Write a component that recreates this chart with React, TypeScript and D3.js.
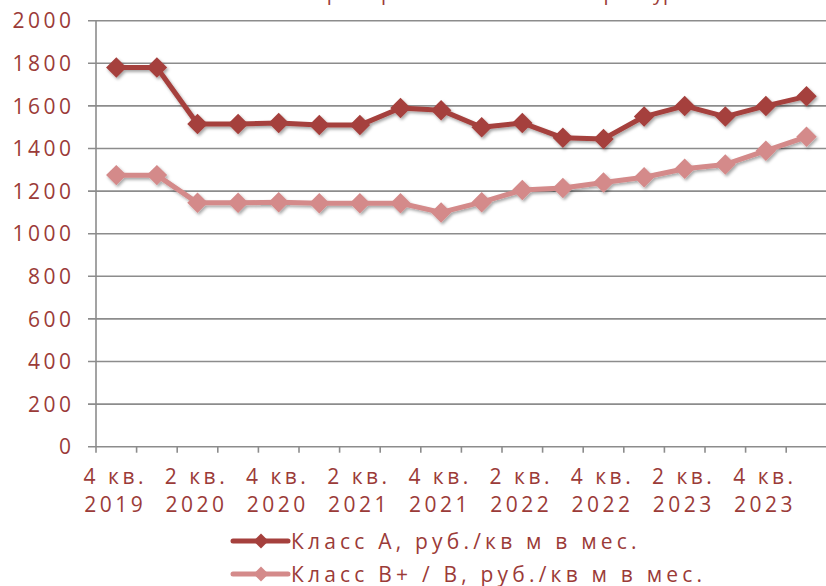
import React from "react";
import * as d3 from "d3";

const categories = [
  "4 кв. 2019", "1 кв. 2020", "2 кв. 2020", "3 кв. 2020", "4 кв. 2020",
  "1 кв. 2021", "2 кв. 2021", "3 кв. 2021", "4 кв. 2021", "1 кв. 2022",
  "2 кв. 2022", "3 кв. 2022", "4 кв. 2022", "1 кв. 2023", "2 кв. 2023",
  "3 кв. 2023", "4 кв. 2023", "1 кв. 2024",
];
const classA = [1780, 1780, 1515, 1515, 1520, 1510, 1510, 1590, 1580, 1500, 1520, 1450, 1445, 1550, 1600, 1550, 1600, 1645];
const classB = [1275, 1275, 1145, 1145, 1148, 1143, 1143, 1143, 1100, 1148, 1205, 1215, 1240, 1265, 1305, 1325, 1390, 1455];
const yTicks = [0, 200, 400, 600, 800, 1000, 1200, 1400, 1600, 1800, 2000];
const seriesNames = ["Класс А, руб./кв м в мес.", "Класс В+ / В, руб./кв м в мес."];
const title = "Характеристика ставок в Екатеринбурге";

const W = 826;
const H = 586;
const left = 96;
const band = 40.6;
const top = 20.7;
const bottom = 446.7;
const textColor = "#9B3B38";
const colA = "#A5403D";
const colB = "#D48A8A";
const gridColor = "#8C8C8C";
const font = "'Open Sans', sans-serif";

export default function App() {
  const x = d3
    .scaleBand<number>()
    .domain(categories.map((_, i) => i))
    .range([left, left + band * categories.length])
    .padding(0);
  const y = d3.scaleLinear().domain([0, 2000]).range([bottom, top]);
  const cx = (i: number) => (x(i) as number) + x.bandwidth() / 2;
  const line = d3
    .line<number>()
    .x((_, i) => cx(i))
    .y((d) => y(d));
  const diamond = d3.symbol(d3.symbolSquare, 210)() as string;
  const diamondSmall = d3.symbol(d3.symbolSquare, 112)() as string;
  const series = [
    { data: classA, color: colA },
    { data: classB, color: colB },
  ];
  const right = left + band * categories.length;

  return (
    <svg
      width={W}
      height={H}
      style={{ position: "absolute", left: 0, top: 0, background: "#fff" }}
      fontFamily={font}
    >
      <defs>
        <filter id="sh" x="-20%" y="-20%" width="140%" height="140%">
          <feDropShadow dx="1.5" dy="2" stdDeviation="1.4" floodColor="#000" floodOpacity="0.35" />
        </filter>
      </defs>
      <text x={695} y={-0.5} textAnchor="end" fontSize={20} fill={textColor}>
        {title}
      </text>
      {/* gridlines */}
      {yTicks.map((t) => (
        <g key={t}>
          <line x1={88} x2={right} y1={y(t)} y2={y(t)} stroke={gridColor} strokeWidth={1.6} />
          <text
            x={74.5}
            y={y(t) + 7.6}
            textAnchor="end"
            fontSize={21}
            letterSpacing={3.5}
            fill={textColor}
          >
            {t}
          </text>
        </g>
      ))}
      {/* y axis */}
      <line x1={left} x2={left} y1={top} y2={bottom} stroke={gridColor} strokeWidth={1.6} />
      {/* x ticks */}
      {categories.map((_, i) => (
        <line
          key={i}
          x1={x(i) as number}
          x2={x(i) as number}
          y1={bottom}
          y2={bottom + 6}
          stroke={gridColor}
          strokeWidth={1.6}
        />
      ))}
      {/* x labels */}
      {categories.map((c, i) => {
        if (i % 2 !== 0) return null;
        const parts = c.split(" ");
        const l1 = parts[0] + " " + parts[1];
        const l2 = parts[2];
        return (
          <text key={c} textAnchor="middle" fontSize={21} letterSpacing={3.5} fill={textColor}>
            <tspan x={cx(i) - 1} y={483.5}>{l1}</tspan>
            <tspan x={cx(i) - 1} y={511.5}>{l2}</tspan>
          </text>
        );
      })}
      {/* series */}
      {series.map((s, k) => (
        <g key={k} filter="url(#sh)">
          <path d={line(s.data) as string} fill="none" stroke={s.color} strokeWidth={5} strokeLinejoin="round" />
          {s.data.map((v, i) => (
            <path key={i} d={diamond} transform={`translate(${cx(i)},${y(v)}) rotate(45)`} fill={s.color} />
          ))}
        </g>
      ))}
      {/* legend */}
      {series.map((s, k) => {
        const ly = 541 + k * 33;
        return (
          <g key={k}>
            <line x1={233} x2={288} y1={ly} y2={ly} stroke={s.color} strokeWidth={5} strokeLinecap="round" />
            <path d={diamondSmall} transform={`translate(261,${ly}) rotate(45)`} fill={s.color} />
            <text x={291} y={ly + 7.5} fontSize={21} letterSpacing={4.2} fill={textColor}>
              {seriesNames[k]}
            </text>
          </g>
        );
      })}
    </svg>
  );
}
